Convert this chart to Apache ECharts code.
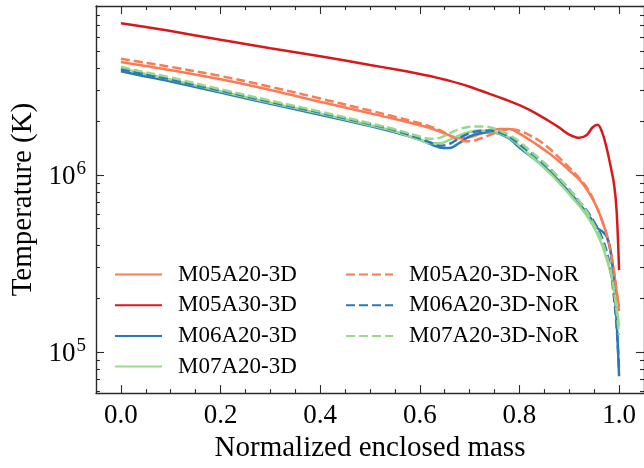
<!DOCTYPE html>
<html>
<head>
<meta charset="utf-8">
<script src="https://cdn.jsdelivr.net/npm/echarts@6/dist/echarts.min.js"></script>
<style>
html,body{margin:0;padding:0;background:#fff;}
#chart{width:644px;height:468px;}
</style>
</head>
<body>
<div id="chart"></div>
<script>
// ---- data ----
const mass = [0, 0.05, 0.1, 0.2, 0.3, 0.4, 0.5, 0.55, 0.6, 0.62, 0.64, 0.66, 0.68, 0.7, 0.72, 0.74, 0.76, 0.78, 0.8, 0.82, 0.84, 0.86, 0.88, 0.9, 0.92, 0.935, 0.947, 0.957, 0.966, 0.975, 0.983, 0.99, 0.995, 1.0];

const M05A20 = [4.34e6, 4.12e6, 3.91e6, 3.47e6, 3.02e6, 2.59e6, 2.23e6, 2.07e6, 1.91e6, 1.84e6, 1.76e6, 1.67e6, 1.61e6, 1.63e6, 1.70e6, 1.77e6, 1.82e6, 1.82e6, 1.71e6, 1.58e6, 1.45e6, 1.32e6, 1.19e6, 1.06e6, 9.4e5, 8.3e5, 7.3e5, 6.4e5, 5.5e5, 4.6e5, 3.7e5, 2.8e5, 2.2e5, 1.8e5];
const M05A30 = [7.2e6, 6.85e6, 6.5e6, 5.8e6, 5.2e6, 4.68e6, 4.18e6, 3.95e6, 3.72e6, 3.62e6, 3.51e6, 3.4e6, 3.28e6, 3.15e6, 3.01e6, 2.87e6, 2.74e6, 2.61e6, 2.48e6, 2.33e6, 2.17e6, 2.01e6, 1.85e6, 1.69e6, 1.62e6, 1.68e6, 1.86e6, 1.92e6, 1.74e6, 1.42e6, 1.12e6, 8.8e5, 6.3e5, 2.9e5];
const M06A20 = [3.85e6, 3.60e6, 3.37e6, 2.92e6, 2.52e6, 2.19e6, 1.89e6, 1.74e6, 1.58e6, 1.50e6, 1.43e6, 1.42e6, 1.52e6, 1.65e6, 1.72e6, 1.74e6, 1.71e6, 1.6e6, 1.43e6, 1.29e6, 1.17e6, 1.05e6, 9.2e5, 8.0e5, 6.9e5, 6.1e5, 5.5e5, 5.0e5, 4.8e5, 4.5e5, 3.7e5, 2.4e5, 1.5e5, 7.3e4];
const M07A20 = [4.0e6, 3.72e6, 3.46e6, 2.97e6, 2.56e6, 2.22e6, 1.91e6, 1.76e6, 1.58e6, 1.51e6, 1.51e6, 1.58e6, 1.68e6, 1.75e6, 1.78e6, 1.77e6, 1.72e6, 1.62e6, 1.46e6, 1.3e6, 1.16e6, 1.03e6, 9.0e5, 7.8e5, 6.7e5, 5.9e5, 5.2e5, 4.6e5, 4.0e5, 3.35e5, 2.8e5, 2.2e5, 1.8e5, 1.4e5];
const M05A20NoR = [4.53e6, 4.3e6, 4.08e6, 3.62e6, 3.15e6, 2.70e6, 2.31e6, 2.13e6, 1.96e6, 1.88e6, 1.79e6, 1.67e6, 1.57e6, 1.55e6, 1.60e6, 1.68e6, 1.76e6, 1.81e6, 1.78e6, 1.68e6, 1.56e6, 1.41e6, 1.25e6, 1.1e6, 9.6e5, 8.5e5, 7.4e5, 6.4e5, 5.5e5, 4.6e5, 3.7e5, 2.8e5, 2.2e5, 1.7e5];
const M06A20NoR = [3.95e6, 3.70e6, 3.46e6, 3.0e6, 2.59e6, 2.25e6, 1.94e6, 1.79e6, 1.61e6, 1.53e6, 1.46e6, 1.5e6, 1.62e6, 1.72e6, 1.77e6, 1.78e6, 1.74e6, 1.64e6, 1.49e6, 1.35e6, 1.22e6, 1.09e6, 9.5e5, 8.3e5, 7.1e5, 6.3e5, 5.6e5, 5.0e5, 4.4e5, 3.7e5, 2.9e5, 2.0e5, 1.4e5, 8.0e4];
const M07A20NoR = [4.08e6, 3.8e6, 3.55e6, 3.05e6, 2.63e6, 2.28e6, 1.96e6, 1.81e6, 1.65e6, 1.60e6, 1.62e6, 1.72e6, 1.82e6, 1.87e6, 1.88e6, 1.86e6, 1.78e6, 1.68e6, 1.54e6, 1.38e6, 1.24e6, 1.1e6, 9.6e5, 8.3e5, 7.1e5, 6.2e5, 5.4e5, 4.8e5, 4.2e5, 3.5e5, 2.9e5, 2.2e5, 1.7e5, 1.25e5];

const seriesNames = ['M05A20-3D', 'M05A30-3D', 'M06A20-3D', 'M07A20-3D', 'M05A20-3D-NoR', 'M06A20-3D-NoR', 'M07A20-3D-NoR'];
const seriesValues = [M05A20, M05A30, M06A20, M07A20, M05A20NoR, M06A20NoR, M07A20NoR];

const xMajorTicks = [0, 0.2, 0.4, 0.6, 0.8, 1.0];
const xMinorTicks = [0.05, 0.1, 0.15, 0.25, 0.3, 0.35, 0.45, 0.5, 0.55, 0.65, 0.7, 0.75, 0.85, 0.9, 0.95];
const yMajorTicks = [1e5, 1e6];
const yMinorTicks = [6e4, 7e4, 8e4, 9e4, 2e5, 3e5, 4e5, 5e5, 6e5, 7e5, 8e5, 9e5, 2e6, 3e6, 4e6, 5e6, 6e6, 7e6, 8e6, 9e6];

const xMin = -0.05, xMax = 1.05;
const yMin = 5.86e4, yMax = 9.0e6;

// ---- styles ----
const colors = ['#fb7b55', '#d7191c', '#2a78b6', '#98d98a', '#fb7b55', '#2a78b6', '#98d98a'];
const dashed = [false, false, false, false, true, true, true];
const FONT = '"Liberation Serif", "DejaVu Serif", serif';
const spine = '#2b2b2b';

const lg = Math.log10;
const expMin = lg(yMin), expMax = lg(yMax);

function xAx(pos, ticks, len, showLine, showLabel) {
  return {
    type: 'value', position: pos, min: xMin, max: xMax, offset: 0,
    axisLine: {show: showLine, onZero: false, lineStyle: {color: spine, width: 1.4}},
    axisTick: {show: true, inside: true, length: len, customValues: ticks, lineStyle: {color: spine, width: 1.1}},
    axisLabel: showLabel ? {show: true, customValues: ticks, margin: 9, color: '#000', fontFamily: FONT, fontSize: 27,
      formatter: v => v.toFixed(1)} : {show: false},
    splitLine: {show: false}
  };
}
function yDecor(pos, ticks, len, showLine, showLabel) {
  return {
    type: 'value', position: pos, min: expMin, max: expMax, offset: 0,
    axisLine: {show: showLine, onZero: false, lineStyle: {color: spine, width: 1.4}},
    axisTick: {show: true, inside: true, length: len, customValues: ticks.map(lg), lineStyle: {color: spine, width: 1.1}},
    axisLabel: showLabel ? {show: true, customValues: ticks.map(lg), margin: 10, color: '#000', fontFamily: FONT,
      formatter: v => '{b|10}{s|' + Math.round(v) + '}',
      rich: {b: {fontSize: 27, fontFamily: FONT, color: '#000', lineHeight: 30, verticalAlign: 'bottom'},
             s: {fontSize: 19, fontFamily: FONT, color: '#000', lineHeight: 30, verticalAlign: 'top', padding: [0, 0, 0, 1]}}} : {show: false},
    splitLine: {show: false}
  };
}

const series = seriesNames.map((name, i) => ({
  name: name,
  type: 'line',
  xAxisIndex: 0, yAxisIndex: 0,
  data: mass.map((m, j) => [m, seriesValues[i][j]]),
  showSymbol: false, symbol: 'none',
  smooth: 0.35,
  lineStyle: {color: colors[i], width: 2.5, type: dashed[i] ? [9, 4] : 'solid'},
  itemStyle: {color: colors[i]},
  emphasis: {disabled: true},
  z: 2
}));

const legendText = {fontFamily: FONT, fontSize: 23, color: '#000', lineHeight: 24, padding: [0, 0, 0, 11]};
const legendCommon = {orient: 'vertical', top: 262.5, itemWidth: 47, itemHeight: 14, itemGap: 6.7,
  textStyle: legendText, selectedMode: false, padding: 0, itemStyle: {opacity: 0}};

const option = {
  animation: false,
  backgroundColor: '#fff',
  grid: {left: 96, top: 6, width: 550, height: 391.5, containLabel: false, show: false},
  legend: [
    Object.assign({data: seriesNames.slice(0, 4), left: 114}, legendCommon),
    Object.assign({data: seriesNames.slice(4), left: 345}, legendCommon)
  ],
  xAxis: [
    Object.assign(xAx('bottom', xMajorTicks, 8, true, true), {
      name: 'Normalized enclosed mass', nameLocation: 'middle', nameGap: 40,
      nameTextStyle: {fontFamily: FONT, fontSize: 29, color: '#000'}}),
    xAx('bottom', xMinorTicks, 4, false, false),
    xAx('top', xMajorTicks, 8, true, false),
    xAx('top', xMinorTicks, 4, false, false)
  ],
  yAxis: [
    {type: 'log', logBase: 10, min: yMin, max: yMax, position: 'left',
     axisLine: {show: false}, axisTick: {show: false}, axisLabel: {show: false}, splitLine: {show: false}, minorTick: {show: false}},
    Object.assign(yDecor('left', yMajorTicks, 8, true, true), {
      name: 'Temperature (K)', nameLocation: 'middle', nameGap: 57, nameRotate: 90,
      nameTextStyle: {fontFamily: FONT, fontSize: 29, color: '#000'}}),
    yDecor('left', yMinorTicks, 4, false, false),
    yDecor('right', yMajorTicks, 8, true, false),
    yDecor('right', yMinorTicks, 4, false, false)
  ],
  series: series
};

const chart = echarts.init(document.getElementById('chart'), null, {renderer: 'canvas'});
chart.setOption(option);
</script>
</body>
</html>
